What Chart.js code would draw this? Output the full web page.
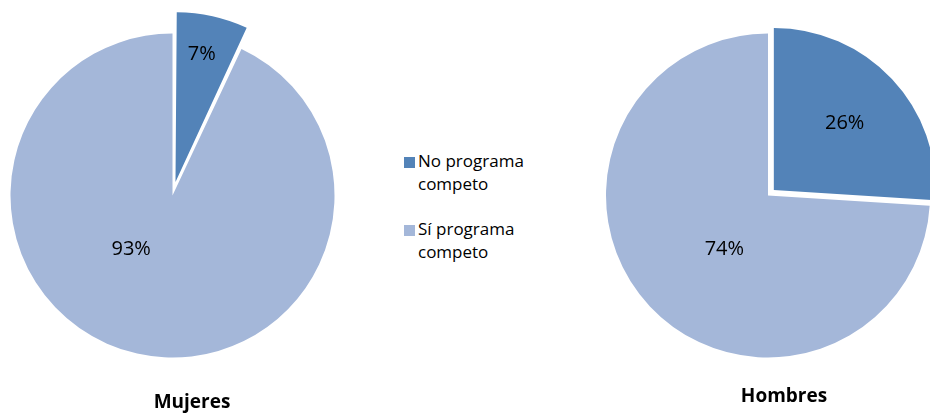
<!DOCTYPE html>
<html>
<head>
<meta charset="utf-8">
<script src="https://cdn.jsdelivr.net/npm/chart.js@4.4.1/dist/chart.umd.min.js"></script>
<style>
  body { margin: 0; background: #fff; }
  #wrap { position: relative; width: 930px; height: 415px; overflow: hidden; font-family: "Open Sans", sans-serif; }
  canvas { position: absolute; }
  #pieM { left: 0; top: 0; }
  #pieH { left: 593px; top: 0; }
  .title { position: absolute; width: 200px; margin-left: -100px; text-align: center; font-weight: bold; font-size: 19px; color: #000; }
  #legend { position: absolute; left: 402px; top: 149px; font-size: 17px; line-height: 23px; color: #000; }
  .item { position: relative; padding-left: 16px; margin-bottom: 22px; }
  .box { position: absolute; left: 2px; top: 8px; width: 11px; height: 11px; }
</style>
</head>
<body>
<div id="wrap">
  <canvas id="pieM" width="345" height="391"></canvas>
  <canvas id="pieH" width="350" height="391"></canvas>
  <div class="title" style="left:192px; top:388px;">Mujeres</div>
  <div class="title" style="left:784px; top:382px;">Hombres</div>
  <div id="legend"></div>
</div>
<script>
var categories = ['No programa competo', 'Sí programa competo'];
var mujeres = [7, 93];
var hombres = [26, 74];
var colors = ['#5383B8', '#A4B7D9'];

// where each percentage sits: [fraction along the slice angle, fraction of radius]
var labelPosM = [[0.49, 0.76], [0.574, 0.42]];
var labelPosH = [[0.5, 0.6], [0.47, 0.43]];

// legend
var legendHtml = '';
for (var i = 0; i < categories.length; i++) {
    var words = categories[i].split(' ');
    legendHtml += '<div class="item"><span class="box" style="background:' + colors[i] + '"></span>' +
        words.slice(0, 2).join(' ') + '<br>' + words.slice(2).join(' ') + '</div>';
}
document.getElementById('legend').innerHTML = legendHtml;

var pctLabels = {
    id: 'pctLabels',
    afterDatasetsDraw: function (chart) {
        var ctx = chart.ctx;
        var meta = chart.getDatasetMeta(0);
        var values = chart.data.datasets[0].data;
        var pos = chart.options.plugins.pctLabels.pos;
        ctx.save();
        ctx.fillStyle = '#000';
        ctx.font = '20px "Open Sans"';
        ctx.textAlign = 'center';
        ctx.textBaseline = 'middle';
        meta.data.forEach(function (arc, i) {
            var p = arc.getProps(['x', 'y', 'startAngle', 'endAngle', 'outerRadius']);
            // same shift the arc element applies to an exploded slice
            var off = (arc.options.offset || 0) / 4;
            var mid = (p.startAngle + p.endAngle) / 2;
            var fix = off * (1 - Math.sin(Math.min(Math.PI, p.endAngle - p.startAngle)));
            var cx = p.x + Math.cos(mid) * off + Math.cos(p.startAngle) * fix;
            var cy = p.y + Math.sin(mid) * off + Math.sin(p.startAngle) * fix;
            var a = p.startAngle + pos[i][0] * (p.endAngle - p.startAngle);
            var r = pos[i][1] * p.outerRadius;
            ctx.fillText(values[i] + '%', cx + Math.cos(a) * r, cy + Math.sin(a) * r);
        });
        ctx.restore();
    }
};

function makePie(id, values, offsets, pos) {
    return new Chart(document.getElementById(id), {
        type: 'pie',
        data: {
            labels: categories,
            datasets: [{
                data: values,
                backgroundColor: colors,
                borderWidth: 0,
                offset: offsets
            }]
        },
        options: {
            responsive: false,
            animation: false,
            events: [],
            radius: 162,
            layout: { padding: 0 },
            plugins: {
                legend: { display: false },
                tooltip: { enabled: false },
                pctLabels: { pos: pos }
            }
        },
        plugins: [pctLabels]
    });
}

makePie('pieM', mujeres, [55, 0], labelPosM);
makePie('pieH', hombres, [32, 0], labelPosH);
</script>
</body>
</html>
